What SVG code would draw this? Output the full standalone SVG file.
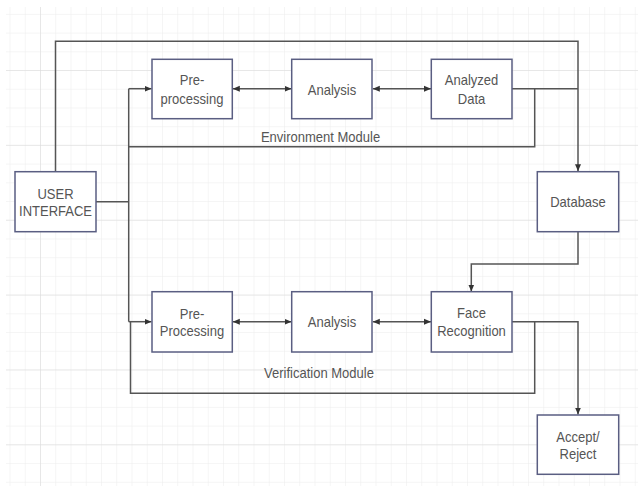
<svg xmlns="http://www.w3.org/2000/svg" width="638" height="486" viewBox="0 0 638 486">
  <defs>
    <pattern id="minor" x="9.5" y="13.9" width="15.25" height="18.715" patternUnits="userSpaceOnUse">
      <path d="M0,0 V18.715 M0,0 H15.25" fill="none" stroke="#ececec" stroke-width="1"/>
    </pattern>
    <pattern id="major" x="40" y="70" width="61" height="74.86" patternUnits="userSpaceOnUse">
      <path d="M0,0 V74.86 M0,0 H61" fill="none" stroke="#dadada" stroke-width="1"/>
    </pattern>
    <marker id="arr" markerUnits="userSpaceOnUse" markerWidth="8" markerHeight="8" refX="7" refY="4" orient="auto-start-reverse">
      <path d="M0,1 L7,4 L0,7 Z" fill="#333"/>
    </marker>
  </defs>
  <style>
    .box { fill: #ffffff; stroke: #5a5e82; stroke-width: 1.5; }
    .lbl { font-family: "Liberation Sans", Arial, sans-serif; font-size: 14px; fill: #555555; text-anchor: middle; }
    .conn { fill: none; stroke: #555555; stroke-width: 1.5; }
    .arrow { marker-end: url(#arr); }
    .both { marker-start: url(#arr); marker-end: url(#arr); }
  </style>
  <rect x="0" y="0" width="638" height="486" fill="#ffffff"/>
  <rect x="6" y="7" width="632" height="479" fill="url(#minor)"/>
  <rect x="6" y="7" width="632" height="479" fill="url(#major)"/>

  <g id="connectors">
    <path class="conn arrow" d="M55.5,171.7 V41.3 H578 V171.2"/>
    <path class="conn" d="M96,201.7 H128.7"/>
    <path class="conn" d="M128.7,88.7 V321.7"/>
    <path class="conn arrow" d="M128.7,88.7 H151.5"/>
    <path class="conn arrow" d="M128.7,321.7 H151.5"/>
    <path class="conn" d="M128.7,146.7 H534.7 V88.7"/>
    <path class="conn" d="M512,88.7 H578"/>
    <path class="conn both" d="M232.8,88.7 H291.5"/>
    <path class="conn both" d="M372.8,88.7 H431"/>
    <path class="conn both" d="M232.8,321.7 H291.5"/>
    <path class="conn both" d="M372.8,321.7 H431"/>
    <path class="conn" d="M130.5,321.7 V393.3 H534.7 V321.7"/>
    <path class="conn arrow" d="M512,321.7 H578 V414.5"/>
    <path class="conn arrow" d="M578,231.7 V264 H471.3 V291.5"/>
  </g>

  <g id="user-interface">
    <rect class="box" x="15" y="171.7" width="81" height="60"/>
    <text class="lbl" transform="translate(55.5,198.5) scale(0.93,1)">USER</text>
    <text class="lbl" transform="translate(55.5,216) scale(0.93,1)">INTERFACE</text>
  </g>
  <g id="env-preprocessing">
    <rect class="box" x="152" y="59.3" width="80.3" height="59.4"/>
    <text class="lbl" transform="translate(192,85) scale(0.93,1)">Pre-</text>
    <text class="lbl" transform="translate(192,104) scale(0.93,1)">processing</text>
  </g>
  <g id="env-analysis">
    <rect class="box" x="291.7" y="59.3" width="80.3" height="59.4"/>
    <text class="lbl" transform="translate(332,94.5) scale(0.93,1)">Analysis</text>
  </g>
  <g id="analyzed-data">
    <rect class="box" x="431.3" y="59.3" width="80.7" height="59.4"/>
    <text class="lbl" transform="translate(471.5,85) scale(0.93,1)">Analyzed</text>
    <text class="lbl" transform="translate(471.5,104) scale(0.93,1)">Data</text>
  </g>
  <g id="environment-module-label">
    <text class="lbl" transform="translate(320.5,141.5) scale(0.93,1)">Environment Module</text>
  </g>
  <g id="database">
    <rect class="box" x="537.3" y="171.7" width="81.4" height="60"/>
    <text class="lbl" transform="translate(578,206.5) scale(0.93,1)">Database</text>
  </g>
  <g id="ver-preprocessing">
    <rect class="box" x="152" y="291.7" width="80.3" height="60.3"/>
    <text class="lbl" transform="translate(192,319) scale(0.93,1)">Pre-</text>
    <text class="lbl" transform="translate(192,336) scale(0.93,1)">Processing</text>
  </g>
  <g id="ver-analysis">
    <rect class="box" x="291.7" y="291.7" width="80.3" height="60.3"/>
    <text class="lbl" transform="translate(332,327) scale(0.93,1)">Analysis</text>
  </g>
  <g id="face-recognition">
    <rect class="box" x="431.3" y="291.7" width="80.7" height="60.3"/>
    <text class="lbl" transform="translate(471.5,318) scale(0.93,1)">Face</text>
    <text class="lbl" transform="translate(471.5,335.5) scale(0.93,1)">Recognition</text>
  </g>
  <g id="verification-module-label">
    <text class="lbl" transform="translate(319,377.5) scale(0.93,1)">Verification Module</text>
  </g>
  <g id="accept-reject">
    <rect class="box" x="537.3" y="415" width="81.4" height="59.3"/>
    <text class="lbl" transform="translate(578,441.5) scale(0.93,1)">Accept/</text>
    <text class="lbl" transform="translate(578,459) scale(0.93,1)">Reject</text>
  </g>
</svg>
